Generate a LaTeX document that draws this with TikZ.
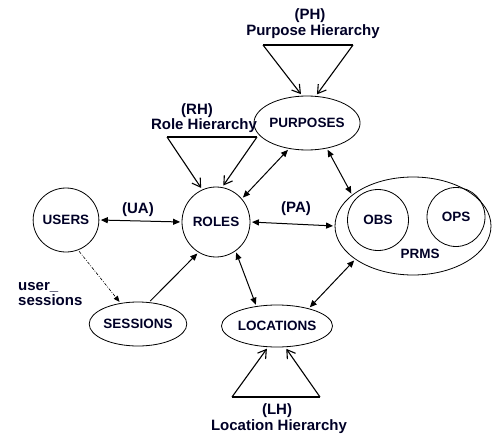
\documentclass[tikz,border=0pt]{standalone}
\usepackage{fontspec}
\setmainfont{Liberation Sans}
\usetikzlibrary{arrows.meta,shapes.geometric}
\begin{document}
\begin{tikzpicture}[x=1pt,y=-1pt,
  every node/.style={font=\bfseries\fontsize{13.5}{16}\selectfont, text=black!85!blue},
  ent/.style={draw, ellipse, inner sep=0pt, line width=0.8pt},
  lbl/.style={font=\bfseries\fontsize{15}{17}\selectfont, anchor=base, inner sep=0pt},
  dbl/.style={{Triangle[length=7pt,width=6pt]}-{Triangle[length=7pt,width=6pt]}, line width=1pt, shorten <=1.5pt, shorten >=1.5pt},
  one/.style={-{Triangle[length=7pt,width=6pt]}, line width=1pt, shorten <=1.5pt, shorten >=1.5pt},
  hier/.style={-{Straight Barb[length=8pt,width=10pt]}, line width=1.1pt, shorten >=2pt},
  hedge/.style={line width=1.1pt}]
\useasboundingbox (0,0) rectangle (492,436);

% entities
\node[ent, minimum width=64pt, minimum height=64pt] (users) at (66,220) {USERS};
\node[ent, minimum width=68pt, minimum height=70pt] (roles) at (216,222) {ROLES};
\node[ent, minimum width=84pt, minimum height=44pt] (sessions) at (138,324) {SESSIONS};
\node[ent, minimum width=85pt, minimum height=54pt] (purposes) at (307,123) {PURPOSES};
\node[ent, minimum width=101pt, minimum height=42pt] (locations) at (277,326) {LOCATIONS};
\node[ent, minimum width=156pt, minimum height=98pt] (prms) at (413,226) {};
\node[ent, minimum width=61pt, minimum height=61pt] (obs) at (378,220) {OBS};
\node[ent, minimum width=58pt, minimum height=59pt] (ops) at (456,217) {OPS};
\node[anchor=base, inner sep=0pt] (prmsl) at (420,258) {PRMS};

% labels
\node[lbl] (phl) at (310,20) {(PH)};
\node[lbl] (phl2) at (313,36) {Purpose Hierarchy};
\node[lbl] (rhl) at (197,114) {(RH)};
\node[lbl] (rhl2) at (204,129) {Role Hierarchy};
\node[lbl] (lhl) at (277,414) {(LH)};
\node[lbl] (lhl2) at (279,430) {Location Hierarchy};
\node[lbl, anchor=base west] (usl) at (18,290) {user\_};
\node[lbl, anchor=base west] (usl2) at (18,305) {sessions};
\node[lbl] (ual) at (138,213) {(UA)};
\node[lbl] (pal) at (296,212) {(PA)};

% connectors
\draw[dbl] (users.east) -- (roles.west);
\draw[dbl] (roles.east) -- (prms.west);
\draw[-{Triangle[length=6pt,width=5pt]}, line width=0.6pt, dash pattern=on 3pt off 1.5pt on 0.8pt off 1.5pt, shorten <=1.5pt, shorten >=1.5pt] (users.-68) -- (sessions.130);
\draw[one] (sessions.63) -- (roles.240);
\draw[dbl] (roles.42) -- (purposes.235);
\draw[dbl] (purposes.308) -- (prms.153);
\draw[dbl] (roles.-56) -- (locations.136);
\draw[dbl] (locations.29) -- (prms.210);

% hierarchies
\coordinate (ph1) at (263,45);
\coordinate (ph2) at (353,45);
\draw[hedge] (ph1) -- (ph2);
\draw[hier] (ph1) -- (purposes.100);
\draw[hier] (ph2) -- (purposes.72);

\coordinate (rh1) at (167,137);
\coordinate (rh2) at (257,137);
\draw[hedge] (rh1) -- (rh2);
\draw[hier] (rh1) -- (roles.113);
\draw[hier] (rh2) -- (roles.80);

\coordinate (lh1) at (232,397);
\coordinate (lh2) at (320,397);
\draw[hedge] (lh1) -- (lh2);
\draw[hier] (lh1) -- (locations.247);
\draw[hier] (lh2) -- (locations.291);
\end{tikzpicture}
\end{document}
